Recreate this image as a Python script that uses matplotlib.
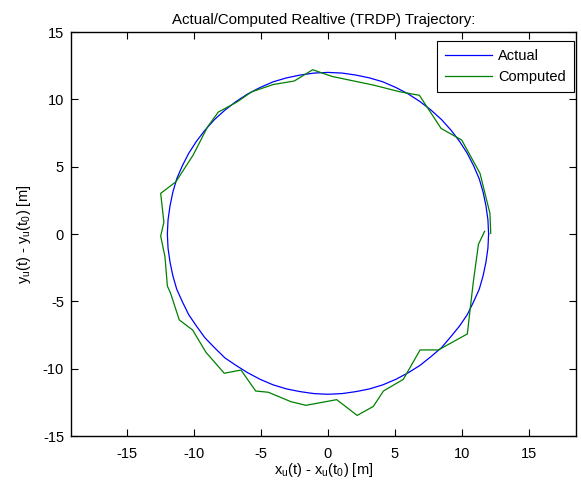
import matplotlib
matplotlib.use("Agg")
import matplotlib.pyplot as plt

plt.rcParams["font.family"] = ["Liberation Sans", "DejaVu Sans"]
plt.rcParams["mathtext.fontset"] = "custom"
plt.rcParams["mathtext.rm"] = "Liberation Sans"
plt.rcParams["mathtext.it"] = "Liberation Sans"
plt.rcParams["axes.unicode_minus"] = False

# Actual relative trajectory
actual_x = [12.0, 11.95, 11.8, 11.59, 11.3, 10.88, 10.4, 9.83, 9.2, 8.49,
            7.7, 6.88, 6.0, 5.07, 4.1, 3.11, 2.1, 1.05, 0.0,
            -1.05, -2.1, -3.11, -4.1, -5.07, -6.0, -6.88, -7.7, -8.49,
            -9.2, -9.83, -10.4, -10.88, -11.3, -11.59, -11.8, -11.95, -12.0,
            -11.95, -11.8, -11.59, -11.3, -10.88, -10.4, -9.83, -9.2, -8.49,
            -7.7, -6.88, -6.0, -5.07, -4.1, -3.11, -2.1, -1.05, 0.0,
            1.05, 2.1, 3.11, 4.1, 5.07, 6.0, 6.88, 7.7, 8.49,
            9.2, 9.83, 10.4, 10.88, 11.3, 11.59, 11.8, 11.95, 12.0]
actual_y = [0.0, 1.05, 2.1, 3.11, 4.1, 5.07, 6.0, 6.88, 7.7, 8.49,
            9.2, 9.83, 10.4, 10.88, 11.3, 11.59, 11.8, 11.95, 12.0,
            11.95, 11.8, 11.59, 11.3, 10.88, 10.4, 9.83, 9.2, 8.49,
            7.7, 6.88, 6.0, 5.07, 4.1, 3.11, 2.1, 1.05, 0.0,
            -1.05, -2.1, -3.1, -4.1, -5.03, -6.0, -6.83, -7.7, -8.43,
            -9.2, -9.75, -10.3, -10.79, -11.2, -11.5, -11.7, -11.85, -11.9,
            -11.85, -11.7, -11.5, -11.2, -10.79, -10.3, -9.75, -9.1, -8.43,
            -7.6, -6.83, -6.0, -5.03, -4.1, -3.1, -2.1, -1.05, 0.0]

# Computed trajectory
computed_x = [11.7, 11.24, 10.86, 10.41, 8.25, 6.88, 5.63, 4.14, 3.39, 2.18,
              0.65, -1.64, -2.77, -4.46, -5.4, -6.5, -7.75, -9.12, -10.11,
              -11.11, -11.76, -12.0, -12.18, -12.5, -12.26, -12.5, -11.36,
              -10.07, -9.0, -8.2, -6.8, -5.7, -4.09, -2.52, -1.14, 0.3,
              3.39, 5.38, 6.83, 8.45, 9.99, 11.36, 12.1, 12.16]
computed_y = [0.2, -0.77, -3.54, -7.42, -8.61, -8.61, -10.79, -11.66, -12.8, -13.47,
              -12.3, -12.72, -12.45, -11.75, -11.66, -10.1, -10.34, -8.78, -7.13,
              -6.38, -4.4, -3.86, -1.68, -0.15, 0.87, 3.02, 3.88,
              5.87, 7.95, 9.05, 9.8, 10.56, 11.1, 11.36, 12.2, 11.7,
              11.06, 10.56, 10.3, 7.84, 6.98, 4.5, 1.53, 0.05]

fig = plt.figure(figsize=(5.81, 4.82), dpi=100)
ax = fig.add_axes([0.1222, 0.0954, 0.8692, 0.8382])

ax.plot(actual_x, actual_y, color=(0, 0, 1), lw=0.9, label="Actual")
ax.plot(computed_x, computed_y, color=(0, 0.5, 0), lw=0.9, label="Computed")

ax.set_xlim(-19.2, 18.53)
ax.set_ylim(-15, 15)
ax.set_xticks([-15, -10, -5, 0, 5, 10, 15])
ax.set_yticks([-15, -10, -5, 0, 5, 10, 15])
ax.tick_params(direction="in", top=True, right=True, length=5, width=0.8,
               labelsize=10.5)
ax.tick_params(axis="x", pad=8)
ax.tick_params(axis="y", pad=5)
for s in ax.spines.values():
    s.set_linewidth(1.0)

ax.set_title("Actual/Computed Realtive (TRDP) Trajectory:", fontsize=10.8, pad=6)
ax.set_xlabel(r"x$_\mathrm{u}$(t) - x$_\mathrm{u}$(t$_\mathrm{0}$) [m]", fontsize=10.5, labelpad=0)
ax.set_ylabel(r"y$_\mathrm{u}$(t) - y$_\mathrm{u}$(t$_\mathrm{0}$) [m]", fontsize=10.5, labelpad=7)

leg = ax.legend(loc="upper right", bbox_to_anchor=(0.996, 0.978), borderaxespad=0,
                fontsize=10.5, fancybox=False, framealpha=1, edgecolor="black",
                handlelength=3.2, borderpad=0.55, labelspacing=0.5,
                handletextpad=0.45)
leg.get_frame().set_linewidth(0.8)

fig.savefig("out.png", dpi=100)
